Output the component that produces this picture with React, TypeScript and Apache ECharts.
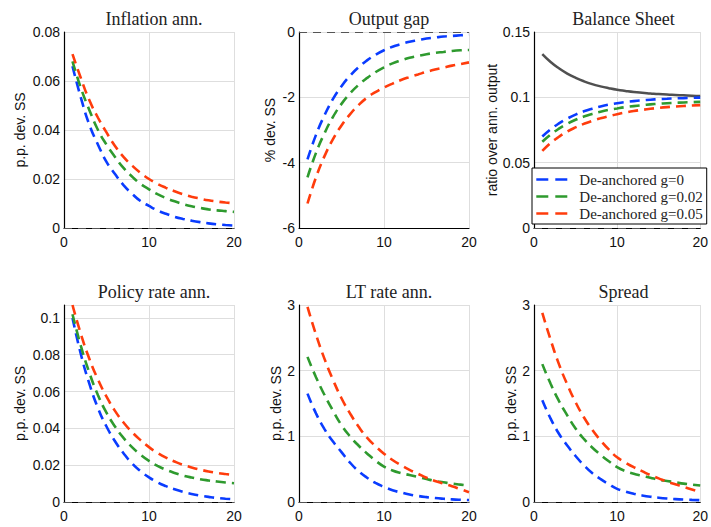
import React, { useEffect, useRef } from "react";
import * as echarts from "echarts";

const periods = [1, 2, 3, 4, 5, 6, 7, 8, 9, 10, 11, 12, 13, 14, 15, 16, 17, 18, 19, 20];
const seriesNames = ["De-anchored g=0", "De-anchored g=0.02", "De-anchored g=0.05"];

const inflationG0 = [0.066, 0.053, 0.042, 0.034, 0.027, 0.022, 0.0175, 0.014, 0.011, 0.009, 0.0072, 0.0058, 0.0046, 0.0037, 0.003, 0.0024, 0.0019, 0.0015, 0.0012, 0.001];
const inflationG2 = [0.068, 0.057, 0.048, 0.04, 0.034, 0.029, 0.0245, 0.021, 0.018, 0.0158, 0.0138, 0.0122, 0.0109, 0.0098, 0.0089, 0.0082, 0.0076, 0.0072, 0.0069, 0.0066];
const inflationG5 = [0.071, 0.061, 0.052, 0.045, 0.039, 0.0335, 0.029, 0.0255, 0.0225, 0.02, 0.018, 0.0164, 0.015, 0.0138, 0.0128, 0.012, 0.0113, 0.0108, 0.0104, 0.0101];

const outputG0 = [-3.9, -3.15, -2.55, -2.05, -1.66, -1.34, -1.08, -0.87, -0.7, -0.56, -0.45, -0.37, -0.3, -0.25, -0.2, -0.17, -0.14, -0.12, -0.1, -0.08];
const outputG2 = [-4.45, -3.7, -3.1, -2.6, -2.2, -1.88, -1.62, -1.41, -1.23, -1.08, -0.96, -0.87, -0.79, -0.73, -0.68, -0.64, -0.61, -0.58, -0.56, -0.55];
const outputG5 = [-5.25, -4.45, -3.8, -3.28, -2.86, -2.52, -2.24, -2.01, -1.84, -1.7, -1.58, -1.47, -1.38, -1.3, -1.22, -1.15, -1.09, -1.03, -0.98, -0.93];

const balanceTarget = [0.133, 0.127, 0.1222, 0.1182, 0.115, 0.1123, 0.1101, 0.1084, 0.107, 0.1058, 0.1049, 0.1041, 0.1035, 0.103, 0.1025, 0.1021, 0.1018, 0.1015, 0.1012, 0.101];
const balanceG0 = [0.07, 0.0755, 0.08, 0.0837, 0.0868, 0.0893, 0.0913, 0.093, 0.0944, 0.0955, 0.0964, 0.0971, 0.0977, 0.0982, 0.0986, 0.0989, 0.0992, 0.0994, 0.0996, 0.0998];
const balanceG2 = [0.066, 0.0715, 0.076, 0.0797, 0.0828, 0.0853, 0.0873, 0.089, 0.0904, 0.0915, 0.0925, 0.0933, 0.094, 0.0946, 0.0951, 0.0955, 0.0958, 0.0961, 0.0963, 0.0965];
const balanceG5 = [0.059, 0.065, 0.0698, 0.0738, 0.077, 0.0797, 0.082, 0.0839, 0.0856, 0.0871, 0.0884, 0.0895, 0.0904, 0.0912, 0.0919, 0.0925, 0.093, 0.0934, 0.0937, 0.094];

const policyG0 = [0.1, 0.08, 0.064, 0.051, 0.041, 0.033, 0.0265, 0.021, 0.0168, 0.0134, 0.0107, 0.0086, 0.0069, 0.0055, 0.0044, 0.0035, 0.0028, 0.0022, 0.0018, 0.0015];
const policyG2 = [0.102, 0.0845, 0.07, 0.058, 0.0485, 0.041, 0.0348, 0.0298, 0.0257, 0.0223, 0.0196, 0.0175, 0.0158, 0.0144, 0.0133, 0.0124, 0.0117, 0.0111, 0.0106, 0.0102];
const policyG5 = [0.107, 0.091, 0.0775, 0.0665, 0.0572, 0.0495, 0.0432, 0.038, 0.0336, 0.0298, 0.0267, 0.0241, 0.022, 0.0202, 0.0188, 0.0176, 0.0166, 0.0158, 0.0152, 0.0147];

const ltRateG0 = [1.65, 1.35, 1.11, 0.92, 0.76, 0.6, 0.47, 0.37, 0.29, 0.23, 0.18, 0.145, 0.115, 0.092, 0.074, 0.06, 0.049, 0.04, 0.034, 0.03];
const ltRateG2 = [2.21, 1.9, 1.63, 1.39, 1.17, 1.0, 0.86, 0.74, 0.63, 0.54, 0.48, 0.44, 0.41, 0.38, 0.35, 0.32, 0.3, 0.28, 0.265, 0.25];
const ltRateG5 = [2.97, 2.55, 2.18, 1.86, 1.58, 1.35, 1.15, 0.98, 0.85, 0.735, 0.64, 0.56, 0.49, 0.43, 0.37, 0.32, 0.28, 0.24, 0.195, 0.15];

const spreadG0 = [1.55, 1.27, 1.04, 0.86, 0.7, 0.56, 0.44, 0.35, 0.27, 0.2, 0.16, 0.125, 0.1, 0.08, 0.065, 0.053, 0.044, 0.037, 0.032, 0.028];
const spreadG2 = [2.1, 1.8, 1.54, 1.32, 1.12, 0.96, 0.83, 0.72, 0.62, 0.53, 0.47, 0.43, 0.4, 0.37, 0.34, 0.32, 0.3, 0.28, 0.265, 0.25];
const spreadG5 = [2.88, 2.47, 2.1, 1.79, 1.52, 1.29, 1.1, 0.94, 0.8, 0.68, 0.6, 0.53, 0.47, 0.41, 0.36, 0.31, 0.27, 0.23, 0.19, 0.15];

const panels = [
  { title: "Inflation ann.", yName: "p.p. dev. SS", min: 0, max: 0.08, interval: 0.02, data: [inflationG0, inflationG2, inflationG5] },
  { title: "Output gap", yName: "% dev. SS", min: -6, max: 0, interval: 2, data: [outputG0, outputG2, outputG5] },
  { title: "Balance Sheet", yName: "ratio over ann. output", min: 0, max: 0.15, interval: 0.05, data: [balanceG0, balanceG2, balanceG5], extra: balanceTarget },
  { title: "Policy rate ann.", yName: "p.p. dev. SS", min: 0, max: 0.107, interval: 0.02, data: [policyG0, policyG2, policyG5] },
  { title: "LT rate ann.", yName: "p.p. dev. SS", min: 0, max: 3, interval: 1, data: [ltRateG0, ltRateG2, ltRateG5] },
  { title: "Spread", yName: "p.p. dev. SS", min: 0, max: 3, interval: 1, data: [spreadG0, spreadG2, spreadG5] },
];

const layout = [
  { left: 64, top: 32, width: 170, height: 196, nameGap: 37 },
  { left: 299, top: 32, width: 170, height: 196, nameGap: 22 },
  { left: 534, top: 32, width: 169, height: 196, nameGap: 34 },
  { left: 64, top: 305, width: 170, height: 197, nameGap: 37 },
  { left: 299, top: 305, width: 170, height: 197, nameGap: 14 },
  { left: 534, top: 305, width: 169, height: 197, nameGap: 14 },
];

const colors = ["#0a3cff", "#2e9a2e", "#ff3c0c"];

export default function App() {
  const ref = useRef<HTMLDivElement>(null);
  useEffect(() => {
    if (!ref.current) return;
    const chart = echarts.init(ref.current, null, { renderer: "svg" });
    const sans = "Liberation Sans, Arial, sans-serif";
    const serif = "Liberation Serif, Times New Roman, serif";
    const grids: any[] = [];
    const xAxes: any[] = [];
    const yAxes: any[] = [];
    const titles: any[] = [];
    const series: any[] = [];
    panels.forEach((p, i) => {
      const l = layout[i];
      grids.push({ left: l.left, top: l.top, width: l.width, height: l.height, containLabel: false });
      titles.push({
        text: p.title,
        left: l.left + l.width / 2,
        top: l.top - 27,
        textAlign: "center",
        textStyle: { fontFamily: serif, fontSize: 18, fontWeight: "normal", color: "#222" },
      });
      xAxes.push({
        type: "value",
        gridIndex: i,
        min: 0,
        max: 20,
        interval: 10,
        axisLine: { show: true, onZero: false, lineStyle: { color: "#000", width: 1.2 } },
        axisTick: { show: false },
        axisLabel: { fontFamily: sans, fontSize: 14, color: "#111", margin: 7 },
        splitLine: { show: true, lineStyle: { color: "#dedede", width: 1 } },
      });
      yAxes.push({
        type: "value",
        gridIndex: i,
        min: p.min,
        max: p.max,
        interval: p.interval,
        name: p.yName,
        nameLocation: "middle",
        nameGap: l.nameGap,
        nameTextStyle: { fontFamily: sans, fontSize: 14, color: "#111" },
        axisLine: { show: true, onZero: false, lineStyle: { color: "#000", width: 1.2 } },
        axisTick: { show: false },
        axisLabel: { fontFamily: sans, fontSize: 14, color: "#111", margin: 4, showMaxLabel: i === 3 ? false : true },
        splitLine: { show: true, lineStyle: { color: "#dedede", width: 1 } },
      });
      if (p.extra) {
        series.push({
          type: "line",
          name: "Target",
          xAxisIndex: i,
          yAxisIndex: i,
          data: periods.map((x, k) => [x, p.extra[k]]),
          symbol: "none",
          smooth: true,
          lineStyle: { color: "#505050", width: 2.5, type: "solid" },
          z: 3,
        });
      }
      p.data.forEach((arr, j) => {
        series.push({
          type: "line",
          name: seriesNames[j],
          xAxisIndex: i,
          yAxisIndex: i,
          data: periods.map((x, k) => [x, arr[k]]),
          symbol: "none",
          smooth: true,
          color: colors[j],
          lineStyle: { color: colors[j], width: 2.6, type: [10, 6] },
          z: 3,
          markLine:
            j === 0
              ? {
                  silent: true,
                  symbol: "none",
                  label: { show: false },
                  lineStyle: { color: "#555", width: 1, type: [8, 6] },
                  data: [{ yAxis: 0 }],
                }
              : undefined,
        });
      });
    });
    chart.setOption({
      animation: false,
      backgroundColor: "#fff",
      title: titles,
      grid: grids,
      xAxis: xAxes,
      yAxis: yAxes,
      series,
      legend: {
        data: seriesNames,
        orient: "vertical",
        left: 532,
        top: 168,
        itemWidth: 32,
        itemHeight: 14,
        itemGap: 2,
        padding: [4, 4, 3, 3],
        backgroundColor: "#fff",
        borderColor: "#000",
        borderWidth: 1,
        borderRadius: 0,
        selectedMode: false,
        itemStyle: { opacity: 0, borderWidth: 0 },
        lineStyle: { width: 2.6, type: [12, 7] },
        textStyle: { fontFamily: serif, fontSize: 15, color: "#222", padding: [0, 0, 0, 6] },
        z: 10,
      },
    });
    return () => chart.dispose();
  }, []);
  return <div ref={ref} style={{ position: "absolute", left: 0, top: 0, width: 711, height: 527 }} />;
}
